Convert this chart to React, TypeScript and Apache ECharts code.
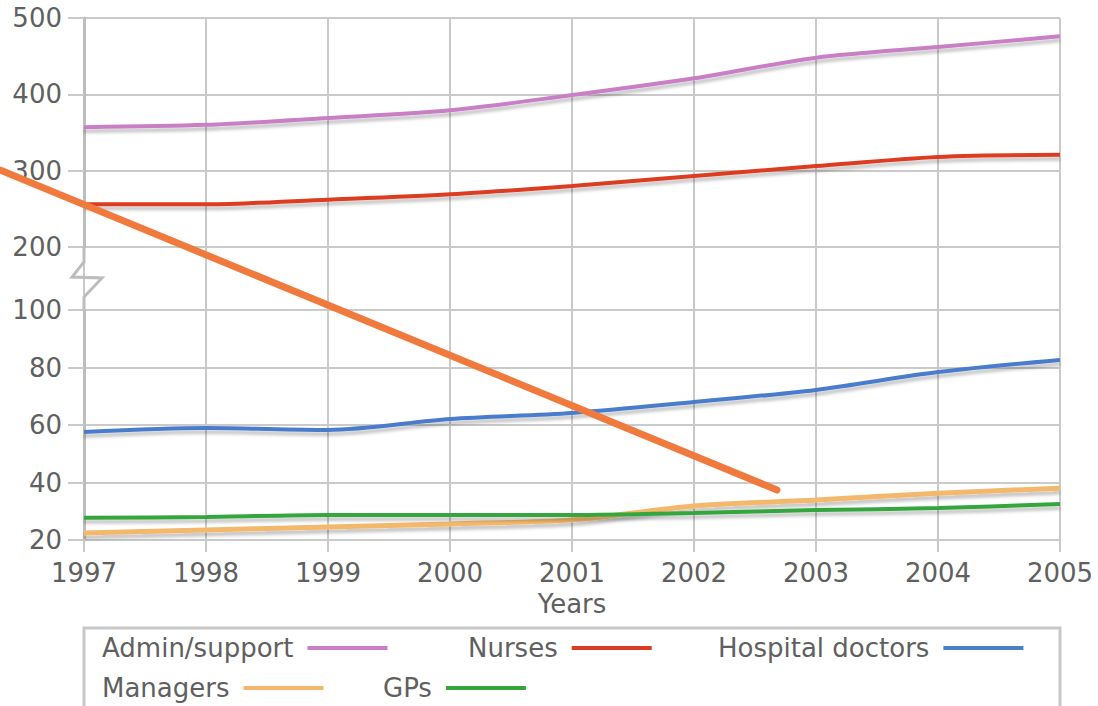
import React, { useEffect, useRef } from "react";
import * as echarts from "echarts";

const years = ["1997", "1998", "1999", "2000", "2001", "2002", "2003", "2004", "2005"];
const adminSupport = [357, 360, 369, 379, 399, 421, 448, 462, 476];
const nurses = [256, 256, 262, 269, 280, 293, 306, 318, 321];
const hospitalDoctors = [57.6, 59, 58.3, 62.1, 64.2, 68, 72.2, 78.4, 82.6];
const managers = [22.4, 23.5, 24.5, 25.6, 27, 31.8, 33.9, 36.3, 38];
const gps = [27.7, 28, 28.7, 28.7, 28.7, 29.4, 30.4, 31.1, 32.5];

const FONT = "DejaVu Sans";
const TXT = "#606060";
const GRIDC = "#cacaca";

export default function App() {
  const ref = useRef<HTMLDivElement>(null);
  useEffect(() => {
    document.body.style.margin = "0";
    const chart = echarts.init(ref.current!, null, { renderer: "svg" });
    const gl = { left: 84, right: 38 };
    const shadow = { shadowColor: "rgba(0,0,0,0.22)", shadowBlur: 3, shadowOffsetY: 4 };
    const mkSeries = (name: string, data: number[], color: string, idx: number, width = 4) => ({
      name,
      type: "line",
      data,
      xAxisIndex: idx,
      yAxisIndex: idx,
      smooth: 0.3,
      showSymbol: false,
      symbol: "none",
      color,
      lineStyle: { color, width, ...shadow },
      z: 3,
    });
    const mkLegend = (name: string, left: number, top: number) => ({
      data: [name],
      left,
      top,
      padding: 0,
      align: "right",
      icon: "rect",
      itemWidth: 80,
      itemHeight: 4,
      selectedMode: false,
      textStyle: { fontFamily: FONT, fontSize: 26, color: TXT, lineHeight: 28, padding: [0, 9, 0, 0] },
    });
    const yBase = {
      type: "value",
      interval: undefined as any,
      axisLine: { show: true, lineStyle: { color: "#bdbdbd", width: 3 } },
      axisTick: { show: true, length: 16, lineStyle: { color: GRIDC, width: 2 } },
      axisLabel: { fontFamily: FONT, fontSize: 26, color: TXT, margin: 22 },
      splitLine: { show: true, lineStyle: { color: GRIDC, width: 2 } },
    };
    chart.setOption({
      animation: false,
      grid: [
        { ...gl, top: 18, height: 522 },
        { ...gl, top: 18, height: 229 },
        { ...gl, top: 310, height: 230 },
      ],
      xAxis: [
        {
          gridIndex: 0,
          type: "category",
          data: years,
          boundaryGap: false,
          axisLine: { show: true, lineStyle: { color: GRIDC, width: 2 } },
          axisTick: { show: true, length: 12, lineStyle: { color: GRIDC, width: 2 } },
          axisLabel: { fontFamily: FONT, fontSize: 26, color: TXT, margin: 20 },
          splitLine: { show: true, lineStyle: { color: GRIDC, width: 2 } },
          name: "Years",
          nameLocation: "middle",
          nameGap: 50,
          nameTextStyle: { fontFamily: FONT, fontSize: 26, color: TXT },
        },
        { gridIndex: 1, type: "category", data: years, boundaryGap: false, show: false },
        { gridIndex: 2, type: "category", data: years, boundaryGap: false, show: false },
      ],
      yAxis: [
        { gridIndex: 0, type: "value", min: 0, max: 1, show: false, splitLine: { show: false } },
        { ...yBase, gridIndex: 1, min: 200, max: 500, interval: 100 },
        { ...yBase, gridIndex: 2, min: 20, max: 100, interval: 20 },
      ],
      legend: [
        mkLegend("Admin/support", 102, 634),
        mkLegend("Nurses", 468, 634),
        mkLegend("Hospital doctors", 718, 634),
        mkLegend("Managers", 102, 674),
        mkLegend("GPs", 383, 674),
      ],
      series: [
        mkSeries("Admin/support", adminSupport, "#c97fc6", 1),
        mkSeries("Nurses", nurses, "#dc3d22", 1),
        mkSeries("Hospital doctors", hospitalDoctors, "#4a7dcc", 2),
        mkSeries("Managers", managers, "#f4b86c", 2, 5),
        mkSeries("GPs", gps, "#36a53c", 2),
      ],
      graphic: [
        {
          type: "polyline",
          shape: { points: [[84, 246], [84, 262], [72, 277], [102, 278], [84, 297], [84, 311]] },
          style: { stroke: "#bdbdbd", lineWidth: 3, fill: null },
          z: 5,
        },
        {
          type: "rect",
          shape: { x: 84, y: 628, width: 976, height: 110 },
          style: { stroke: "#c8c8c8", lineWidth: 3, fill: null },
          z: 1,
        },
        {
          type: "line",
          shape: { x1: 0, y1: 170, x2: 777, y2: 490 },
          style: { stroke: "#f07a3e", lineWidth: 7, lineCap: "round" },
          z: 10,
        },
      ],
    });
    return () => chart.dispose();
  }, []);
  return <div ref={ref} style={{ width: 1098, height: 706 }} />;
}
